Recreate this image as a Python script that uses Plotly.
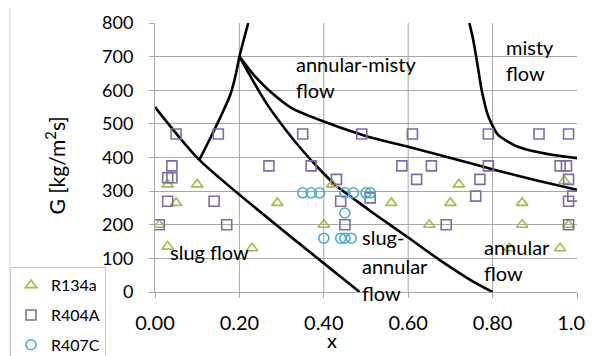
import plotly.graph_objects as go

# ---------------- data ----------------
r134a_x = [0.01, 0.03, 0.10, 0.05, 0.29, 0.03, 0.23, 0.42, 0.56, 0.40, 0.65, 0.72,
           0.70, 0.87, 0.87, 0.97, 0.96, 0.84, 0.98]
r134a_g = [200, 320, 320, 265, 265, 135, 130, 320, 265, 200, 200, 320,
           265, 265, 200, 330, 130, 130, 200]

r404a_x = [0.05, 0.15, 0.04, 0.27, 0.03, 0.04, 0.03, 0.14, 0.01, 0.17,
           0.35, 0.49, 0.61, 0.37, 0.585, 0.655, 0.43, 0.62, 0.44, 0.51, 0.45,
           0.79, 0.91, 0.98, 0.79, 0.96, 0.975, 0.77, 0.98, 0.76, 0.99, 0.98, 0.69, 0.98]
r404a_g = [470, 470, 375, 375, 340, 340, 270, 270, 200, 200,
           470, 470, 470, 375, 375, 375, 335, 335, 270, 280, 200,
           470, 470, 470, 375, 375, 375, 335, 335, 285, 285, 270, 200, 200]

r407c_x = [0.35, 0.37, 0.39, 0.45, 0.47, 0.50, 0.51, 0.45, 0.40, 0.44, 0.45, 0.465]
r407c_g = [295, 295, 295, 295, 295, 295, 295, 235, 160, 160, 160, 160]

# flow-pattern map boundaries
bound_a_x = [0.0, 0.105, 0.485]
bound_a_g = [550, 393, 0]
bound_b_x = [0.105, 0.13, 0.155, 0.178, 0.192, 0.2, 0.221]
bound_b_g = [393, 455, 520, 585, 650, 700, 800]
bound_c_x = [0.2, 0.235, 0.269, 0.31, 0.348, 0.39, 0.43, 0.466, 0.52, 0.6, 0.675, 0.754, 0.8]
bound_c_g = [700, 622, 552, 482, 423, 365, 315, 282, 232, 162, 95, 31, 0]
bound_d_x = [0.2, 0.237, 0.269, 0.324, 0.4, 0.505, 0.6, 0.703, 0.806, 0.9, 1.0]
bound_d_g = [700, 641, 601, 547, 507, 462, 432, 398, 363, 333, 304]
bound_e_x = [0.745, 0.754, 0.765, 0.774, 0.79, 0.813, 0.86, 0.94, 1.0]
bound_e_g = [800, 750, 670, 601, 522, 467, 432, 408, 398]

x_ticks = [0.0, 0.2, 0.4, 0.6, 0.8, 1.0]
y_ticks = [0, 100, 200, 300, 400, 500, 600, 700, 800]

labels = [  # (text, x, G)
    ("bubble", -0.005, 726), ("flow", -0.005, 643),
    ("annular-misty", 0.329, 678), ("flow", 0.329, 601),
    ("misty", 0.827, 729), ("flow", 0.827, 652),
    ("slug flow", 0.031, 119),
    ("slug-", 0.486, 164), ("annular", 0.486, 78), ("flow", 0.486, 0),
    ("annular", 0.775, 134), ("flow", 0.775, 57),
]

FONT = "Lato, 'Open Sans', sans-serif"
GRID = "#A6A6A6"

fig = go.Figure()

for bx, bg in [(bound_a_x, bound_a_g), (bound_b_x, bound_b_g), (bound_c_x, bound_c_g),
               (bound_d_x, bound_d_g), (bound_e_x, bound_e_g)]:
    fig.add_trace(go.Scatter(x=bx, y=bg, mode="lines", showlegend=False,
                             line=dict(color="black", width=2.6, shape="spline", smoothing=0.6),
                             hoverinfo="skip"))

fig.add_trace(go.Scatter(x=r134a_x, y=r134a_g, mode="markers", name="R134a", legendgroup="a",
                         marker=dict(symbol="triangle-up-open", size=10, color="#A4B94E",
                                     line=dict(width=1.6))))
fig.add_trace(go.Scatter(x=r404a_x, y=r404a_g, mode="markers", name="R404A", legendgroup="b",
                         marker=dict(symbol="square-open", size=10, color="#7E6CA0",
                                     line=dict(width=1.6))))
fig.add_trace(go.Scatter(x=r407c_x, y=r407c_g, mode="markers", name="R407C", legendgroup="c",
                         marker=dict(symbol="circle-open", size=10, color="#4BACC6",
                                     line=dict(width=1.6))))

for t, x, g in labels:
    fig.add_annotation(x=x, y=g, text=t, showarrow=False, xanchor="left", yanchor="middle",
                       yshift=-1 if g == 0 else 0,
                       font=dict(family=FONT, size=20, color="black"))

# axis titles
fig.add_annotation(xref="paper", yref="paper", x=-0.237, y=0.47, text="G [kg/m<sup>2</sup>s]",
                   xanchor="center", yanchor="middle",
                   textangle=-90, showarrow=False, font=dict(family=FONT, size=21, color="black"))
fig.add_annotation(xref="paper", yref="paper", x=0.42, y=-0.178, text="x",
                   xanchor="center", yanchor="middle",
                   showarrow=False, font=dict(family=FONT, size=20, color="black"))

shapes = []
for xv in x_ticks[1:-1]:
    shapes.append(dict(type="line", xref="x", yref="y", x0=xv, x1=xv, y0=0, y1=800,
                       line=dict(color=GRID, width=1), layer="below"))
# outer chart border
shapes.append(dict(type="rect", xref="paper", yref="paper", x0=-0.3436, x1=1.033, y0=-0.4, y1=1.2,
                   line=dict(color="#D9D9D9", width=1), layer="below"))
fig.update_layout(shapes=shapes)

# the page adds an 8px body margin, so the figure is sized to the remaining window area
fig.update_layout(
    width=586, height=348,
    margin=dict(l=147, r=17, t=15, b=64, autoexpand=False),
    paper_bgcolor="white", plot_bgcolor="white",
    font=dict(family=FONT, size=18, color="black"),
    xaxis=dict(range=[0, 1.0], tickvals=x_ticks, tickformat=".2f", showgrid=False,
               showline=True, linecolor=GRID, linewidth=1, ticks="outside", ticklen=5,
               tickcolor=GRID, zeroline=False, ticklabelstandoff=8, ticklabeloverflow="allow",
               tickfont=dict(family=FONT, size=20)),
    yaxis=dict(range=[0, 800], tickvals=y_ticks, showgrid=True, gridcolor=GRID, gridwidth=1,
               showline=True, linecolor=GRID, linewidth=1, ticks="outside", ticklen=5,
               tickcolor=GRID, zeroline=False, ticklabelstandoff=12,
               tickfont=dict(family=FONT, size=18)),
    legend=dict(x=-0.3436, y=0.092, xanchor="left", yanchor="top",
                bordercolor="#C8C8C8", borderwidth=1, bgcolor="white",
                font=dict(family=FONT, size=16), tracegroupgap=6,
                traceorder="grouped", itemwidth=30),
    showlegend=True,
)

fig.write_html("out.html")
